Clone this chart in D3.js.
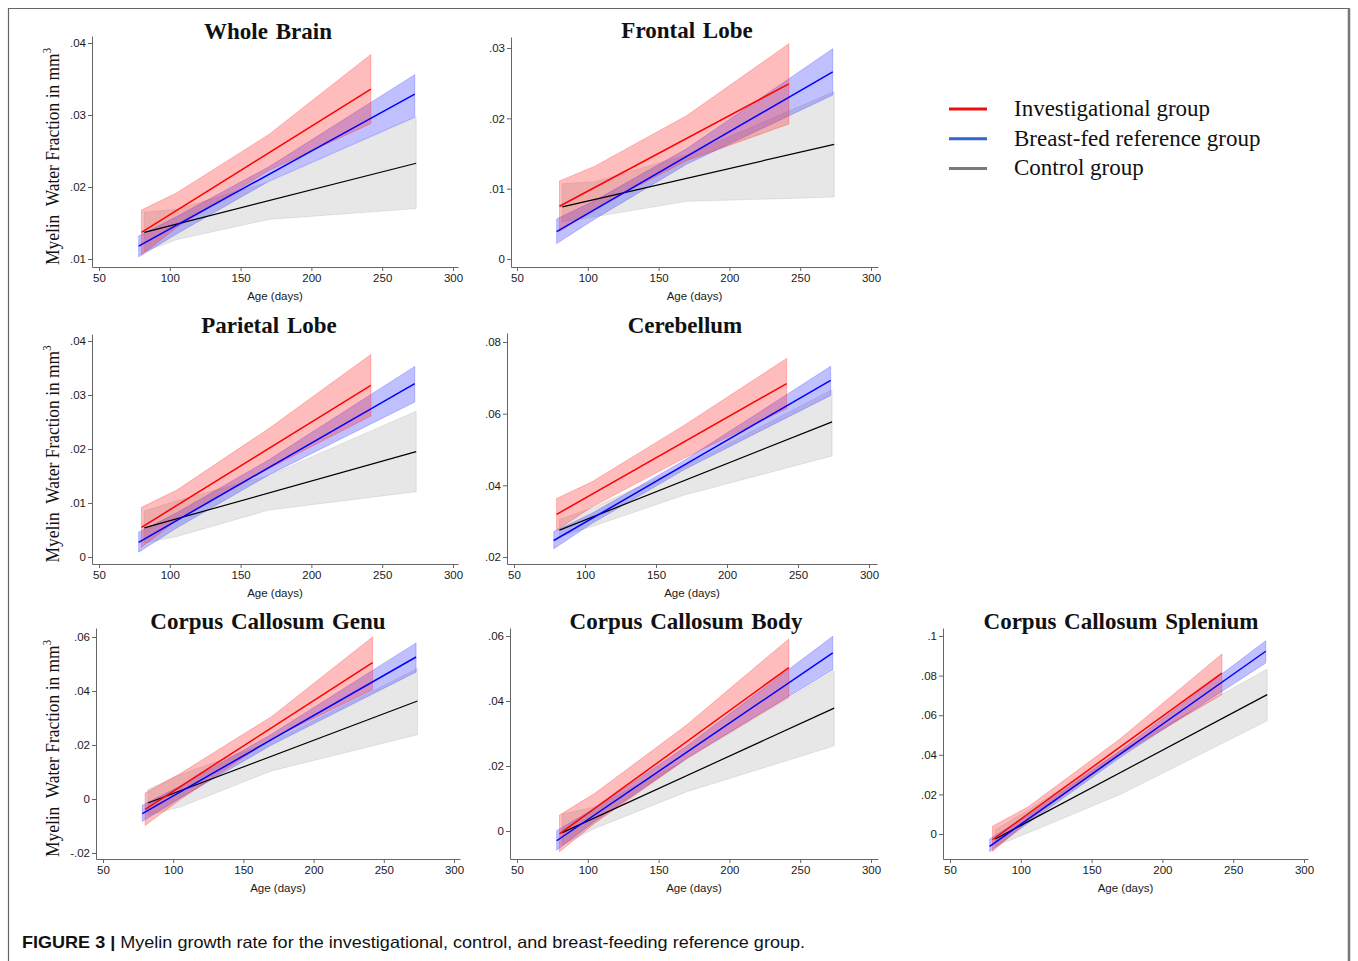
<!DOCTYPE html>
<html lang="en">
<head>
<meta charset="utf-8">
<title>Myelin growth rate</title>
<script src="https://d3js.org/d3.v7.min.js"></script>
<style>
  body { margin: 0; background: #fff; }
  .tick text { font-family: "Liberation Sans", Arial, sans-serif; font-size: 11.5px; fill: #1a1a1a; }
  .tick line, .domain { stroke: #666; }
</style>
</head>
<body>
<div id="fig"></div>
<script>
// ---- data ----
var regions = ["Whole Brain", "Frontal Lobe", "Parietal Lobe", "Cerebellum",
               "Corpus Callosum Genu", "Corpus Callosum Body", "Corpus Callosum Splenium"]
var groups = ["Investigational group", "Breast-fed reference group", "Control group"]
var ageTicks = [50, 100, 150, 200, 250, 300]
var yTicks = [
  [.01, .02, .03, .04],
  [0, .01, .02, .03],
  [0, .01, .02, .03, .04],
  [.02, .04, .06, .08],
  [-.02, 0, .02, .04, .06],
  [0, .02, .04, .06],
  [0, .02, .04, .06, .08, .1]
]

// ages where the bands are sampled (first and last = ends of the fitted line)
var investAges = [80, 105, 170, 242]
var breastAges = [78, 105, 170, 273]
var controlAges = [82, 105, 170, 274]

// fitted line [start, end] per region
var investFit  = [[.0137,.0336],[.0075,.0249],[.0055,.0318],[.0319,.0684],[-.0038,.0505],[-.0009,.0503],[-.0029,.0813]]
var breastFit  = [[.0118,.0329],[.0039,.0266],[.0027,.0321],[.0246,.0693],[-.0054,.0526],[-.0030,.0548],[-.0062,.0923]]
var controlFit = [[.0137,.0233],[.0074,.0163],[.0054,.0195],[.0275,.0577],[-.0015,.0363],[-.0005,.0378],[-.0025,.0704]]

// confidence bands
var investUpper = [[.0168,.0192,.0273,.0384],[.0111,.0132,.0204,.0306],[.0092,.0124,.0238,.0375],[.0363,.0410,.0568,.0754],[.0022,.0094,.0305,.0600],[.0049,.0116,.0327,.0591],[.0039,.0136,.0480,.0909]]
var investLower = [[.0106,.0144,.0223,.0288],[.0039,.0072,.0140,.0192],[.0018,.0068,.0164,.0261],[.0275,.0340,.0476,.0614],[-.0098,-.0002,.0223,.0405],[-.0064,.0024,.0223,.0412],[-.0088,.0066,.0400,.0704]]
var breastUpper = [[.0132,.0159,.0228,.0356],[.0057,.0083,.0157,.0299],[.0046,.0082,.0180,.0353],[.0271,.0322,.0470,.0732],[-.0023,.0048,.0240,.0578],[.0001,.0070,.0262,.0599],[-.0025,.0094,.0420,.0976]]
var breastLower = [[.0103,.0135,.0208,.0297],[.0022,.0057,.0135,.0233],[.0009,.0054,.0152,.0287],[.0223,.0294,.0444,.0651],[-.0083,.0004,.0200,.0470],[-.0059,.0030,.0224,.0496],[-.0089,.0054,.0386,.0864]]
var controlUpper = [[.0165,.0169,.0207,.0297],[.0107,.0110,.0148,.0238],[.0085,.0104,.0151,.0270],[.0305,.0337,.0453,.0667],[.0036,.0090,.0212,.0483],[.0052,.0074,.0221,.0493],[.0022,.0119,.0419,.0833]]
var controlLower = [[.0110,.0127,.0155,.0170],[.0053,.0060,.0082,.0088],[.0026,.0038,.0087,.0121],[.0257,.0285,.0373,.0482],[-.0060,-.0030,.0104,.0238],[-.0043,.0008,.0121,.0262],[-.0062,.0005,.0199,.0572]]

// ---- layout (pixels) ----
// left/right/top/bottom = axis lines, x50/x300 = tick positions, yLo/yHi = first/last y tick positions
var layout = [
  {left: 92,  right: 458,  top: 36,  bottom: 267, x50: 99,  x300: 453,  yLo: 259, yHi: 43,  tx: 268,  ty: 39,  ylab: true},
  {left: 511, right: 878,  top: 37,  bottom: 267, x50: 517, x300: 871,  yLo: 259, yHi: 48,  tx: 687,  ty: 38,  ylab: false},
  {left: 92,  right: 458,  top: 334, bottom: 564, x50: 99,  x300: 453,  yLo: 557, yHi: 341, tx: 269,  ty: 333, ylab: true},
  {left: 507, right: 877,  top: 333, bottom: 564, x50: 514, x300: 869,  yLo: 557, yHi: 342, tx: 685,  ty: 333, ylab: false},
  {left: 96,  right: 460,  top: 628, bottom: 859, x50: 103, x300: 454,  yLo: 853, yHi: 637, tx: 268,  ty: 629, ylab: true},
  {left: 510, right: 878,  top: 628, bottom: 859, x50: 517, x300: 871,  yLo: 831, yHi: 636, tx: 686,  ty: 629, ylab: false},
  {left: 943, right: 1308, top: 628, bottom: 859, x50: 950, x300: 1304, yLo: 834, yHi: 636, tx: 1121, ty: 629, ylab: false}
]

var serif = "'Liberation Serif', 'Times New Roman', serif"
var sans = "'Liberation Sans', Arial, sans-serif"

var svg = d3.select("#fig").append("svg")
  .attr("width", 1358)
  .attr("height", 961)

// figure frame
svg.append("path").attr("d", "M8.5,961V8.5H1349").attr("fill", "none").attr("stroke", "#666").attr("stroke-width", 1.2)
svg.append("line").attr("x1", 1349).attr("x2", 1349).attr("y1", 8).attr("y2", 961).attr("stroke", "#777").attr("stroke-width", 2.5)

function fmt(v) {
  if (v === 0) return "0"
  return String(v).replace("0.", ".")
}

var series = [
  {ages: controlAges, fit: controlFit, up: controlUpper, lo: controlLower, band: "#9a9a9a", bandOp: 0.24, line: "#000", lw: 1.2},
  {ages: breastAges, fit: breastFit, up: breastUpper, lo: breastLower, band: "#3030ff", bandOp: 0.3, line: "#0000ff", lw: 1.5},
  {ages: investAges, fit: investFit, up: investUpper, lo: investLower, band: "#ff2020", bandOp: 0.3, line: "#ff0000", lw: 1.5}
]

regions.forEach(function(name, i) {
  var L = layout[i]
  var x = d3.scaleLinear().domain([50, 300]).range([L.x50, L.x300])
  x.domain([x.invert(L.left), x.invert(L.right)]).range([L.left, L.right])
  var t = yTicks[i]
  var y = d3.scaleLinear().domain([t[0], t[t.length - 1]]).range([L.yLo, L.yHi])
  y.domain([y.invert(L.bottom), y.invert(L.top)]).range([L.bottom, L.top])

  var g = svg.append("g")

  // bands
  series.forEach(function(s) {
    var pts = s.ages.map(function(a, k) { return {a: a, u: s.up[i][k], l: s.lo[i][k]} })
    var area = d3.area()
      .x(function(d) { return x(d.a) })
      .y0(function(d) { return y(d.l) })
      .y1(function(d) { return y(d.u) })
    g.append("path")
      .attr("d", area(pts) + "Z")
      .attr("fill", s.band)
      .attr("fill-opacity", s.bandOp)
      .attr("stroke", s.band)
      .attr("stroke-opacity", s.bandOp * 0.9)
      .attr("stroke-width", 1)
  })

  // fitted lines
  series.forEach(function(s) {
    var a = s.ages
    g.append("line")
      .attr("x1", x(a[0])).attr("y1", y(s.fit[i][0]))
      .attr("x2", x(a[a.length - 1])).attr("y2", y(s.fit[i][1]))
      .attr("stroke", s.line)
      .attr("stroke-width", s.lw)
  })

  // axes
  g.append("g")
    .attr("transform", "translate(0," + L.bottom + ")")
    .call(d3.axisBottom(x).tickValues(ageTicks).tickSize(4).tickSizeOuter(0).tickPadding(3))
  g.append("g")
    .attr("transform", "translate(" + L.left + ",0)")
    .call(d3.axisLeft(y).tickValues(t).tickFormat(fmt).tickSize(4).tickSizeOuter(0).tickPadding(2))

  g.append("text")
    .attr("x", (L.left + L.right) / 2)
    .attr("y", L.bottom + 33)
    .attr("text-anchor", "middle")
    .style("font-family", sans)
    .style("font-size", "11.5px")
    .attr("fill", "#1a1a1a")
    .text("Age (days)")

  g.append("text")
    .attr("x", L.tx)
    .attr("y", L.ty)
    .attr("text-anchor", "middle")
    .style("font-family", serif)
    .style("font-size", "23px")
    .style("font-weight", "bold")
    .attr("fill", "#111")
    .style("word-spacing", "2px")
    .text(name)

  if (L.ylab) {
    var yl = g.append("text")
      .attr("transform", "translate(59," + ((L.top + L.bottom) / 2 + 5) + ") rotate(-90)")
      .attr("text-anchor", "middle")
      .attr("textLength", 217)
      .attr("lengthAdjust", "spacingAndGlyphs")
      .style("font-family", serif)
      .style("font-size", "19.5px")
      .attr("fill", "#111")
    yl.append("tspan").text("Myelin\u00a0 Water Fraction in mm")
    yl.append("tspan").attr("dy", -8).style("font-size", "12px").text("3")
  }
})

// legend
var legendColors = ["#e81010", "#3366cc", "#7a7a7a"]
var legend = svg.append("g")
groups.forEach(function(name, k) {
  var ly = 109 + k * 29.7
  legend.append("line")
    .attr("x1", 949).attr("x2", 987)
    .attr("y1", ly).attr("y2", ly)
    .attr("stroke", legendColors[k])
    .attr("stroke-width", 3)
  legend.append("text")
    .attr("x", 1014)
    .attr("y", ly + 7)
    .style("font-family", serif)
    .style("font-size", "23px")
    .attr("fill", "#111")
    .text(name)
})

// caption
var cap = svg.append("text")
  .attr("x", 22)
  .attr("y", 948)
  .attr("textLength", 783)
  .attr("lengthAdjust", "spacingAndGlyphs")
  .style("font-family", sans)
  .style("font-size", "16.5px")
  .attr("fill", "#111")
cap.append("tspan").style("font-weight", "bold").text("FIGURE 3 | ")
cap.append("tspan").text("Myelin growth rate for the investigational, control, and breast-feeding reference group.")
</script>
</body>
</html>
